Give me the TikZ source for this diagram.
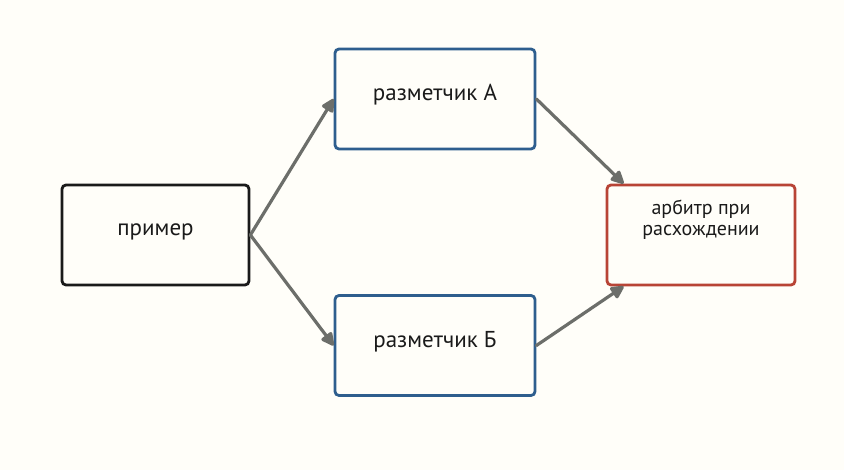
\documentclass[tikz,border=0pt]{standalone}
\usepackage{fontspec}
\setmainfont{PT Sans}
\usetikzlibrary{arrows.meta}
\definecolor{bg}{HTML}{FFFEF9}
\definecolor{ink}{HTML}{1A1A1A}
\definecolor{bluebox}{HTML}{2E5E8E}
\definecolor{redbox}{HTML}{B84436}
\definecolor{arrowgray}{HTML}{6C6E6A}
\tikzset{
  box/.style={draw, line width=2.8pt, rounded corners=4pt, fill=bg, text=ink,
    minimum height=100pt, inner sep=0pt, align=center, font=\fontsize{23}{26}\selectfont},
  conn/.style={draw=arrowgray, line width=3.2pt, line cap=round,
    -{Triangle[length=15pt,width=14pt,round]}},
}
\begin{document}
\begin{tikzpicture}[x=1pt,y=1pt]
\fill[bg] (0,0) rectangle (844,470);
\useasboundingbox (0,0) rectangle (844,470);
\node[box, draw=ink, minimum width=187pt, text depth=10pt] (primer) at (155.5,235) {пример};
\node[box, draw=bluebox, minimum width=200pt, text depth=13pt] (annA) at (435,371) {разметчик А};
\node[box, draw=bluebox, minimum width=200pt, text depth=12pt] (annB) at (435,124.5) {разметчик Б};
\node[box, draw=redbox, minimum width=188pt, text depth=35pt, font=\fontsize{20}{21}\selectfont] (arb) at (701,235) {арбитр при\\расхождении};
\draw[conn] (primer.east) -- (annA.west);
\draw[conn] (primer.east) -- (annB.west);
\draw[conn] (annA.east) -- ([xshift=18pt]arb.north west);
\draw[conn] (annB.east) -- ([xshift=18pt]arb.south west);
\end{tikzpicture}
\end{document}
